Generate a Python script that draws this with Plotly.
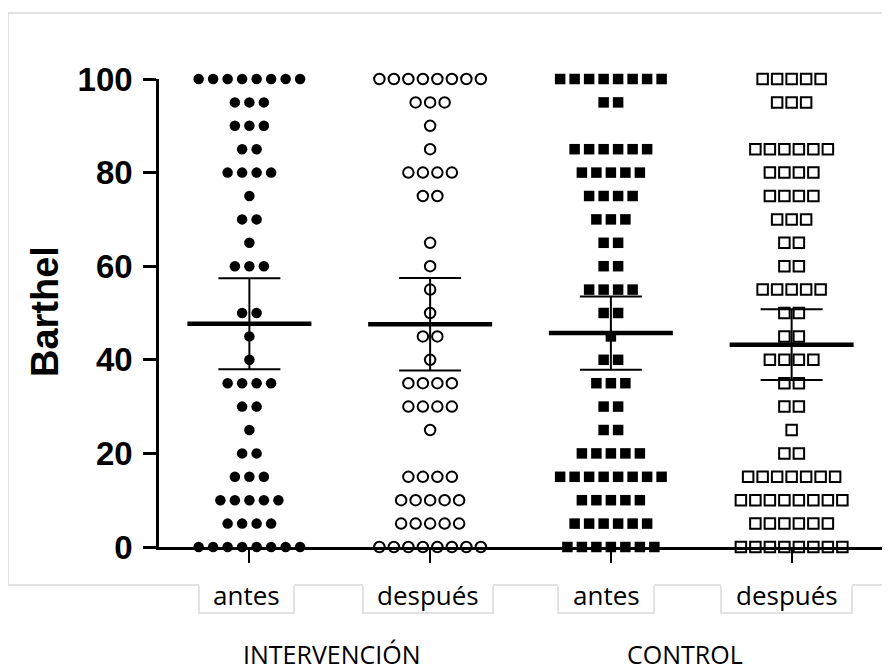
import plotly.graph_objects as go

# ---------------- data ----------------
levels = [0, 5, 10, 15, 20, 25, 30, 35, 40, 45, 50, 55, 60, 65, 70, 75, 80, 85, 90, 95, 100]

counts_int_antes = [8, 4, 5, 3, 2, 1, 2, 4, 1, 1, 2, 0, 3, 1, 2, 1, 4, 2, 3, 3, 8]
counts_int_despues = [8, 5, 5, 4, 0, 1, 4, 4, 1, 2, 1, 1, 1, 1, 0, 2, 4, 1, 1, 3, 8]
counts_ctl_antes = [7, 6, 5, 8, 5, 2, 2, 3, 2, 1, 2, 4, 2, 2, 3, 4, 5, 6, 0, 2, 8]
counts_ctl_despues = [8, 6, 8, 7, 2, 1, 2, 2, 4, 2, 2, 5, 2, 2, 3, 4, 4, 6, 0, 3, 5]

sub_labels = ["antes", "después", "antes", "después"]
group_labels = ["INTERVENCIÓN", "CONTROL"]

means = [47.7, 47.6, 45.7, 43.2]
err_upper = [57.4, 57.5, 53.5, 50.8]
err_lower = [38.0, 37.7, 37.9, 35.7]

y_ticks = [0, 20, 40, 60, 80, 100]

# ---------------- layout geometry ----------------
OFF = 8  # page body margin offset
W, H = 890 - OFF, 671 - OFF
L, R, T, B = 159 - OFF, 8, 79 - OFF, 124
PW = W - L - R
PH = H - T - B
REF_L, REF_BOT = 159, 547  # plot-area left / bottom in window pixels


def px_x(p):
    return (p - REF_L) / PW


def px_y(p):
    return (REF_BOT - p) / PH


symbols = [
    dict(symbol="circle", color="black", line=dict(width=0)),
    dict(symbol="circle-open", color="black", line=dict(width=2, color="black")),
    dict(symbol="square", color="black", line=dict(width=0)),
    dict(symbol="square-open", color="black", line=dict(width=2, color="black")),
]
all_counts = [counts_int_antes, counts_int_despues, counts_ctl_antes, counts_ctl_despues]
spacing = 0.0802

fig = go.Figure()

for gi, counts in enumerate(all_counts):
    xs, ys = [], []
    for lv, n in zip(levels, counts):
        for j in range(n):
            xs.append(gi + (j - (n - 1) / 2) * spacing)
            ys.append(lv)
    fig.add_trace(go.Scatter(
        x=xs, y=ys, mode="markers", cliponaxis=False, showlegend=False,
        marker=dict(size=10.5, **symbols[gi]), hoverinfo="y"))

# mean lines
half = 0.343
for gi, m in enumerate(means):
    fig.add_trace(go.Scatter(
        x=[gi - half, gi + half], y=[m, m], mode="lines", cliponaxis=False,
        line=dict(color="black", width=4.5), showlegend=False, hoverinfo="skip"))

# error bars
fig.add_trace(go.Scatter(
    x=list(range(len(means))), y=means, mode="markers", cliponaxis=False,
    marker=dict(size=1, color="rgba(0,0,0,0)"), showlegend=False, hoverinfo="skip",
    error_y=dict(type="data", symmetric=False,
                 array=[u - m for u, m in zip(err_upper, means)],
                 arrayminus=[m - l for l, m in zip(err_lower, means)],
                 color="black", thickness=2, width=31)))

shapes = []
# outer light-gray frame
shapes.append(dict(type="rect", xref="paper", yref="paper",
                   x0=px_x(8), x1=px_x(905), y0=px_y(585), y1=px_y(13),
                   line=dict(color="#d9d9d9", width=1.5), fillcolor="rgba(0,0,0,0)", layer="below"))

boxes = [(199, 294), (363, 493), (558, 654), (721, 852)]
for (x0, x1) in boxes:
    shapes.append(dict(type="rect", xref="paper", yref="paper",
                       x0=px_x(x0), x1=px_x(x1), y0=px_y(613), y1=px_y(582),
                       line=dict(width=0), fillcolor="white"))
    path = "M %f,%f L %f,%f L %f,%f L %f,%f" % (
        px_x(x0), px_y(586), px_x(x0), px_y(613), px_x(x1), px_y(613), px_x(x1), px_y(586))
    shapes.append(dict(type="path", xref="paper", yref="paper", path=path,
                       line=dict(color="#d9d9d9", width=1.5)))

annotations = []
for gi, lab in enumerate(sub_labels):
    cx = (boxes[gi][0] + boxes[gi][1]) / 2
    annotations.append(dict(text=lab, xref="paper", yref="paper", x=px_x(cx), y=px_y(595),
                            xanchor="center", yanchor="middle", showarrow=False,
                            font=dict(family="Open Sans", size=26, color="black")))

group_x = [332, 685]
for gx, lab in zip(group_x, group_labels):
    annotations.append(dict(text=lab, xref="paper", yref="paper", x=px_x(gx), y=px_y(654),
                            xanchor="center", yanchor="middle", showarrow=False,
                            borderpad=0,
                            font=dict(family="Open Sans", size=25, color="black")))

annotations.append(dict(text="Barthel", xref="paper", yref="paper", x=px_x(45), y=px_y(312),
                        xanchor="center", yanchor="middle", showarrow=False, textangle=-90,
                        font=dict(family="Liberation Sans, Arial", size=38, color="black",
                                  weight="bold")))

fig.update_layout(
    width=W, height=H,
    margin=dict(l=L, r=R, t=T, b=B, pad=0),
    paper_bgcolor="white", plot_bgcolor="white",
    shapes=shapes, annotations=annotations,
    xaxis=dict(range=[-0.5, 3.5], showgrid=False, zeroline=False,
               showline=True, linecolor="black", linewidth=2.5,
               ticks="outside", ticklen=13, tickwidth=2, tickcolor="black",
               tickvals=[0, 1, 2, 3], showticklabels=False),
    yaxis=dict(range=[0, 100], showgrid=False, zeroline=False,
               showline=True, linecolor="black", linewidth=2.5,
               ticks="outside", ticklen=13, tickwidth=2.5, tickcolor="black",
               tickvals=y_ticks, ticktext=[str(v) for v in y_ticks],
               tickfont=dict(family="Liberation Sans, Arial", size=33, color="black",
                             weight="bold"),
               ticklabelstandoff=4),
)

fig.write_html("out.html")
